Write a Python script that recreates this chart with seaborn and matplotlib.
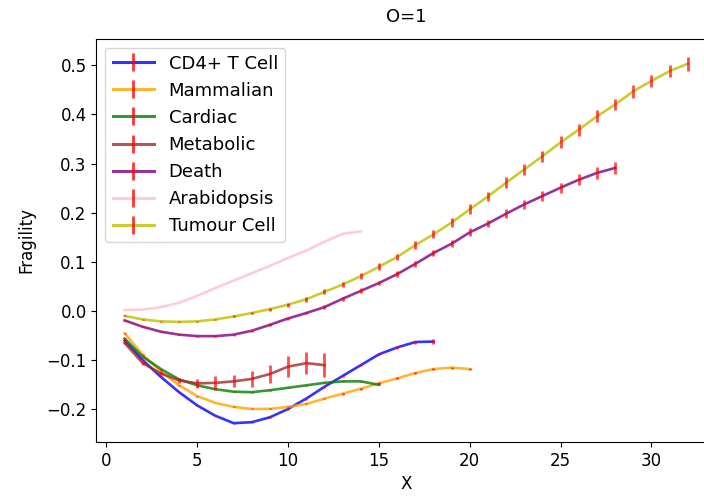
import pandas as pd
import matplotlib
matplotlib.use('Agg')
import matplotlib.pyplot as plt
import seaborn as sns
from matplotlib.lines import Line2D

# series
names = ['CD4+ T Cell', 'Mammalian', 'Cardiac', 'Metabolic', 'Death', 'Arabidopsis', 'Tumour Cell']
colors = ['blue', 'orange', 'green', 'brown', 'purple', 'pink', 'y']

y_cd4 = [-0.060, -0.100, -0.134, -0.165, -0.192, -0.213, -0.228, -0.226, -0.216, -0.199,
         -0.178, -0.154, -0.132, -0.110, -0.088, -0.074, -0.063, -0.062]
e_cd4 = [0.001, 0.001, 0.001, 0.001, 0.001, 0.001, 0.001, 0.001, 0.002, 0.002,
         0.002, 0.002, 0.002, 0.002, 0.002, 0.003, 0.003, 0.006]

y_mam = [-0.045, -0.089, -0.123, -0.151, -0.173, -0.187, -0.195, -0.199, -0.199, -0.195,
         -0.189, -0.178, -0.168, -0.158, -0.147, -0.137, -0.126, -0.118, -0.115, -0.118]
e_mam = [0.001] * 10 + [0.001, 0.001, 0.002, 0.002, 0.002, 0.002, 0.002, 0.002, 0.002, 0.002]

y_car = [-0.056, -0.093, -0.118, -0.139, -0.151, -0.159, -0.164, -0.165, -0.161, -0.156,
         -0.151, -0.146, -0.143, -0.143, -0.150]
e_car = [0.001] * 15

y_met = [-0.065, -0.106, -0.127, -0.141, -0.147, -0.146, -0.143, -0.138, -0.128, -0.113,
         -0.106, -0.110]
e_met = [0.002, 0.003, 0.004, 0.005, 0.009, 0.013, 0.012, 0.016, 0.019, 0.022, 0.022, 0.024]

y_dea = [-0.019, -0.032, -0.042, -0.048, -0.051, -0.051, -0.048, -0.040, -0.028, -0.015,
         -0.004, 0.008, 0.025, 0.041, 0.057, 0.075, 0.096, 0.118, 0.137, 0.160,
         0.178, 0.198, 0.217, 0.234, 0.251, 0.267, 0.281, 0.291]
e_dea = [0.001, 0.001, 0.001, 0.001, 0.001, 0.002, 0.002, 0.002, 0.003, 0.003,
         0.003, 0.004, 0.004, 0.005, 0.005, 0.006, 0.006, 0.007, 0.007, 0.008,
         0.008, 0.009, 0.009, 0.010, 0.010, 0.011, 0.012, 0.013]

y_ara = [0.002, 0.003, 0.008, 0.017, 0.031, 0.047, 0.062, 0.077, 0.092, 0.108,
         0.123, 0.141, 0.157, 0.162]
e_ara = [0.0] * 14

y_tum = [-0.010, -0.017, -0.021, -0.022, -0.021, -0.017, -0.011, -0.004, 0.004, 0.013,
         0.024, 0.039, 0.054, 0.071, 0.090, 0.110, 0.134, 0.156, 0.180, 0.207,
         0.233, 0.261, 0.288, 0.315, 0.343, 0.369, 0.396, 0.420, 0.447, 0.468,
         0.488, 0.503]
e_tum = [0.001, 0.001, 0.001, 0.001, 0.001, 0.001, 0.002, 0.002, 0.003, 0.004,
         0.005, 0.005, 0.006, 0.006, 0.007, 0.007, 0.008, 0.008, 0.009, 0.010,
         0.010, 0.011, 0.011, 0.011, 0.012, 0.012, 0.012, 0.012, 0.013, 0.013,
         0.013, 0.014]

ys = [y_cd4, y_mam, y_car, y_met, y_dea, y_ara, y_tum]
es = [e_cd4, e_mam, e_car, e_met, e_dea, e_ara, e_tum]

frames = []
for n, y, e in zip(names, ys, es):
    frames.append(pd.DataFrame({'X': range(1, len(y) + 1), 'Fragility': y, 'err': e, 'series': n}))
df = pd.concat(frames, ignore_index=True)

fig = plt.figure(figsize=(7.04, 5), dpi=100)
ax = fig.add_axes([0.137, 0.116, 0.88, 0.807])

sns.lineplot(data=df, x='X', y='Fragility', hue='series', hue_order=names,
             palette=dict(zip(names, colors)), alpha=0.8, linewidth=1.9,
             errorbar=None, legend=False, ax=ax)

for n in names:
    d = df[df['series'] == n]
    ax.errorbar(d['X'], d['Fragility'], yerr=d['err'], fmt='none',
                ecolor='red', elinewidth=2, alpha=0.7)

ax.set_xlim(-0.55, 33.55)
ax.set_xlabel('X', fontsize=12)
ax.set_ylabel('Fragility', fontsize=12, labelpad=8)
ax.set_title('O=1', fontsize=13, pad=12)
ax.tick_params(labelsize=12)

handles = [Line2D([], [], color=c, lw=2.2, alpha=0.8, marker='|', markersize=13,
                  markeredgecolor=(1, 0, 0, 0.7), markeredgewidth=2) for c in colors]
ax.legend(handles, names, loc='upper left', fontsize=13, handlelength=2.3)

fig.savefig('out.png', dpi=100, facecolor='w')
